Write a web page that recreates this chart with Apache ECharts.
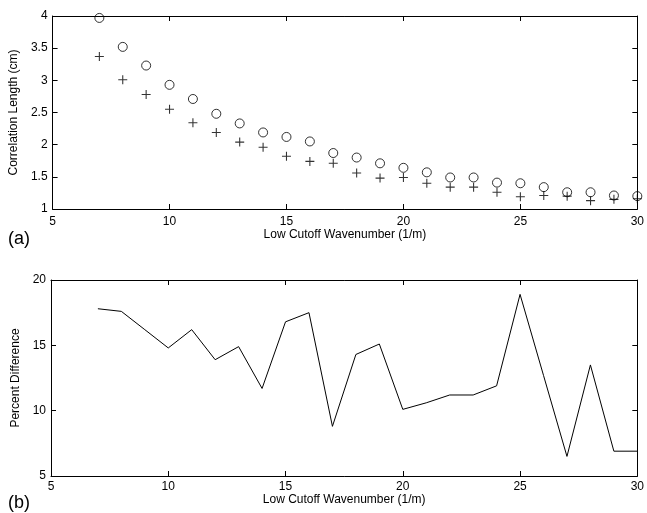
<!DOCTYPE html>
<html>
<head>
<meta charset="utf-8">
<script src="https://cdn.jsdelivr.net/npm/echarts@6/dist/echarts.min.js"></script>
<style>
  html, body { margin: 0; padding: 0; background: #fff; }
  #main { width: 647px; height: 513px; }
</style>
</head>
<body>
<div id="main"></div>
<script>
// low cutoff wavenumber (1/m)
var waveNumbers = [7, 8, 9, 10, 11, 12, 13, 14, 15, 16, 17, 18, 19, 20, 21, 22, 23, 24, 25, 26, 27, 28, 29, 30];
// correlation length (cm), circles and pluses
var circleLength = [3.97, 3.52, 3.23, 2.93, 2.71, 2.48, 2.33, 2.19, 2.12, 2.05, 1.87, 1.80, 1.71, 1.64, 1.57, 1.49, 1.49, 1.41, 1.40, 1.34, 1.26, 1.26, 1.21, 1.20];
var plusLength = [3.37, 3.01, 2.78, 2.55, 2.34, 2.19, 2.04, 1.96, 1.82, 1.74, 1.71, 1.56, 1.48, 1.49, 1.40, 1.34, 1.34, 1.26, 1.19, 1.21, 1.20, 1.13, 1.15, 1.16];
// percent difference
var percentDiff = [17.8, 17.6, 16.2, 14.8, 16.2, 13.9, 14.9, 11.7, 16.8, 17.5, 8.8, 14.3, 15.1, 10.1, 10.6, 11.2, 11.2, 11.9, 18.9, 12.7, 6.5, 13.5, 6.9, 6.9];

function pairs(xs, ys) {
    return xs.map(function (x, i) { return [x, ys[i]]; });
}

var font = 'Liberation Sans, Arial, sans-serif';
var plusPath = 'path://M4.4,0H5.6V4.4H10V5.6H5.6V10H4.4V5.6H0V4.4H4.4Z';

function xAxisCfg(gridIndex, position, showLabel, labelMargin, name, nameGap) {
    return {
        type: 'value', gridIndex: gridIndex, position: position,
        min: 5, max: 30, interval: 5,
        name: name, nameLocation: 'middle', nameGap: nameGap,
        nameTextStyle: { color: '#000', fontSize: 12, fontFamily: font },
        axisLine: { show: true, onZero: false, lineStyle: { color: '#000', width: 1 } },
        axisTick: { show: true, inside: true, length: 5, lineStyle: { color: '#000' } },
        axisLabel: { show: showLabel, margin: labelMargin, color: '#000', fontSize: 12, fontFamily: font },
        splitLine: { show: false }
    };
}

function yAxisCfg(gridIndex, position, showLabel, min, max, interval, name, nameGap) {
    return {
        type: 'value', gridIndex: gridIndex, position: position,
        min: min, max: max, interval: interval,
        name: name, nameLocation: 'middle', nameGap: nameGap,
        nameTextStyle: { color: '#000', fontSize: 12, fontFamily: font },
        axisLine: { show: true, onZero: false, lineStyle: { color: '#000', width: 1 } },
        axisTick: { show: true, inside: true, length: 5, lineStyle: { color: '#000' } },
        axisLabel: { show: showLabel, margin: 5, color: '#000', fontSize: 12, fontFamily: font },
        splitLine: { show: false }
    };
}

var myChart = echarts.init(document.getElementById('main'));

var option = {
    backgroundColor: '#fff',
    animation: false,
    title: [
        { text: '(a)', left: 3, top: 225, textStyle: { fontSize: 18, fontWeight: 'normal', color: '#000', fontFamily: font } },
        { text: '(b)', left: 3, top: 489, textStyle: { fontSize: 18, fontWeight: 'normal', color: '#000', fontFamily: font } }
    ],
    grid: [
        { left: 51, right: 6, top: 16, height: 193 },
        { left: 51, right: 6, top: 280, height: 196 }
    ],
    xAxis: [
        xAxisCfg(0, 'bottom', true, 7, 'Low Cutoff Wavenumber (1/m)', 20),
        xAxisCfg(0, 'top', false, 7, '', 0),
        xAxisCfg(1, 'bottom', true, 5, 'Low Cutoff Wavenumber (1/m)', 16),
        xAxisCfg(1, 'top', false, 5, '', 0)
    ],
    yAxis: [
        yAxisCfg(0, 'left', true, 1, 4, 0.5, 'Correlation Length (cm)', 28),
        yAxisCfg(0, 'right', false, 1, 4, 0.5, '', 0),
        yAxisCfg(1, 'left', true, 5, 20, 5, 'Percent Difference', 23),
        yAxisCfg(1, 'right', false, 5, 20, 5, '', 0)
    ],
    series: [
        {
            name: 'circles',
            type: 'scatter',
            xAxisIndex: 0, yAxisIndex: 0,
            symbol: 'circle',
            symbolSize: 9,
            itemStyle: { color: 'rgba(255,255,255,0)', borderColor: '#000', borderWidth: 1 },
            data: pairs(waveNumbers, circleLength)
        },
        {
            name: 'pluses',
            type: 'scatter',
            xAxisIndex: 0, yAxisIndex: 0,
            symbol: plusPath,
            symbolSize: 9,
            itemStyle: { color: '#000' },
            data: pairs(waveNumbers, plusLength)
        },
        {
            name: 'percent',
            type: 'line',
            xAxisIndex: 2, yAxisIndex: 2,
            showSymbol: false,
            symbol: 'none',
            lineStyle: { color: '#000', width: 1 },
            data: pairs(waveNumbers, percentDiff)
        }
    ]
};

myChart.setOption(option);
</script>
</body>
</html>
